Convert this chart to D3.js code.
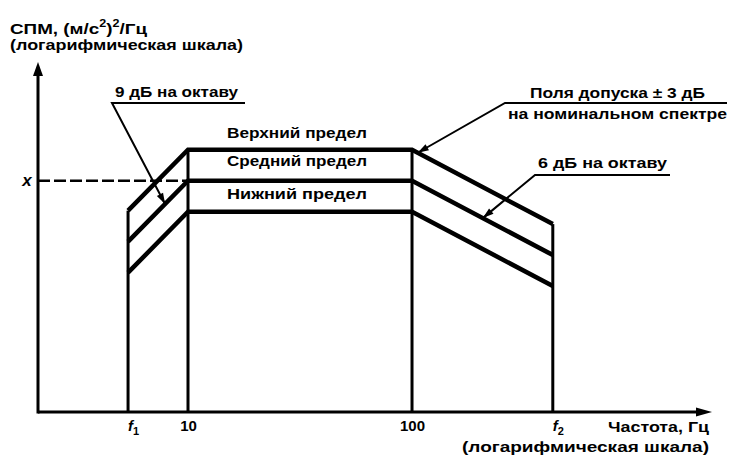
<!DOCTYPE html>
<html>
<head>
<meta charset="utf-8">
<script src="https://cdn.jsdelivr.net/npm/d3@7"></script>
<style>
  body { margin: 0; background: #fff; }
  svg { display: block; }
  text { font-family: "Liberation Sans", Arial, sans-serif; font-weight: bold; fill: #000; }
</style>
</head>
<body>
<div id="chart"></div>
<script>
const freqs = [5.4, 10, 100, 425];
const tickLabels = ['f1', '10', '100', 'f2'];
// levels relative to the nominal value X, dB
const upper = [-2.9, 3, 3, -4.2];
const middle = [-5.9, 0, 0, -7.2];
const lower = [-8.9, -3, -3, -10.2];
const bandNames = ['Верхний предел', 'Средний предел', 'Нижний предел'];
const bandLabelLevels = [4.1, 1.4, -1.8];

const width = 730, height = 462;

const svg = d3.select('#chart').append('svg')
  .attr('width', width)
  .attr('height', height);

svg.append('rect').attr('width', width).attr('height', height).attr('fill', '#fff');

const x = d3.scaleLog().domain([2.14, 2183]).range([38, 712]);
const y = d3.scaleLinear().domain([-22.4, 11.5]).range([412, 62]);

const series = [upper, middle, lower];

// value of a series at frequency f (linear in log f between points)
function levelAt(vals, f) {
  const i = d3.bisectRight(freqs, f) - 1;
  const j = Math.min(i + 1, freqs.length - 1);
  if (i === j) return vals[i];
  const t = (Math.log(f) - Math.log(freqs[i])) / (Math.log(freqs[j]) - Math.log(freqs[i]));
  return vals[i] + t * (vals[j] - vals[i]);
}

// ---- axes with arrow heads
const y0 = y.range()[0];
svg.append('line')
  .attr('x1', x.range()[0]).attr('x2', x.range()[1] - 10)
  .attr('y1', y0).attr('y2', y0)
  .attr('stroke', '#000').attr('stroke-width', 3);
svg.append('line')
  .attr('x1', x.range()[0]).attr('x2', x.range()[0])
  .attr('y1', y0 + 1.5).attr('y2', y.range()[1] + 10)
  .attr('stroke', '#000').attr('stroke-width', 3);

const xe = x.range()[1], ye = y.range()[1], xo = x.range()[0];
svg.append('path')
  .attr('d', `M${xe},${y0} L${xe - 16},${y0 - 4.5} L${xe - 16},${y0 + 4.5} Z`)
  .attr('fill', '#000');
svg.append('path')
  .attr('d', `M${xo},${ye} L${xo - 5},${ye + 14} L${xo + 5},${ye + 14} Z`)
  .attr('fill', '#000');

const xAxis = svg.append('g')
  .attr('transform', `translate(0,${y0})`)
  .call(d3.axisBottom(x).tickValues(freqs).tickSize(0).tickPadding(8)
    .tickFormat((d, i) => tickLabels[i]));
xAxis.select('.domain').remove();
xAxis.selectAll('text')
  .style('font-family', '"Liberation Sans", Arial, sans-serif')
  .style('font-weight', 'bold')
  .attr('font-size', 15)
  .each(function (d, i) {
    const lbl = tickLabels[i];
    if (lbl[0] === 'f') {
      const t = d3.select(this).text(null).attr('dx', 5);
      t.append('tspan').attr('font-style', 'italic').text('f');
      t.append('tspan').attr('dy', 4).attr('font-size', 11).text(lbl.slice(1));
    }
  });

// ---- vertical lines at each break frequency
svg.append('g').selectAll('line')
  .data(freqs)
  .join('line')
  .attr('x1', d => x(d)).attr('x2', d => x(d))
  .attr('y1', y0).attr('y2', (d, i) => y(upper[i]))
  .attr('stroke', '#000').attr('stroke-width', 3);

// ---- dashed reference level X
svg.append('line')
  .attr('x1', xo).attr('x2', x(10))
  .attr('y1', y(0)).attr('y2', y(0))
  .attr('stroke', '#000').attr('stroke-width', 2.5)
  .attr('stroke-dasharray', '12,4');

// ---- the three spectrum lines
const line = d3.line()
  .x((d, i) => x(freqs[i]))
  .y(d => y(d));

svg.append('g').selectAll('path')
  .data(series)
  .join('path')
  .attr('d', line)
  .attr('fill', 'none')
  .attr('stroke', '#000')
  .attr('stroke-width', 4.5)
  .attr('stroke-linejoin', 'miter');

// ---- band names
const xMid = (x(10) + x(100)) / 2 - 3;
svg.append('g').selectAll('text')
  .data(bandNames)
  .join('text')
  .attr('x', xMid)
  .attr('y', (d, i) => y(bandLabelLevels[i]))
  .attr('text-anchor', 'middle')
  .attr('font-size', 15)
  .attr('textLength', 140)
  .attr('lengthAdjust', 'spacingAndGlyphs')
  .text(d => d);

svg.append('text')
  .attr('x', 27).attr('y', y(0) + 5)
  .attr('text-anchor', 'middle')
  .attr('font-size', 17)
  .attr('font-style', 'italic')
  .text('x');

// ---- plain text labels
const labels = [
  { t: '(логарифмическая шкала)', x: 10, y: 50, w: 233 },
  { t: 'Частота, Гц', x: 608, y: 432, w: 101 },
  { t: '(логарифмическая шкала)', x: 462, y: 452, w: 247 },
  { t: '9 дБ на октаву', x: 115, y: 97, w: 123 },
  { t: 'Поля допуска ± 3 дБ', x: 530, y: 98, w: 175 },
  { t: 'на номинальном спектре', x: 508, y: 119, w: 219 },
  { t: '6 дБ на октаву', x: 538, y: 168, w: 129 },
];
svg.append('g').selectAll('text')
  .data(labels)
  .join('text')
  .attr('x', d => d.x).attr('y', d => d.y)
  .attr('font-size', 15)
  .attr('textLength', d => d.w)
  .attr('lengthAdjust', 'spacingAndGlyphs')
  .text(d => d.t);

// y axis title with superscripts
const yt = svg.append('text')
  .attr('x', 10).attr('y', 34)
  .attr('font-size', 15)
  .attr('textLength', 137)
  .attr('lengthAdjust', 'spacingAndGlyphs');
yt.append('tspan').text('СПМ, (м/с');
yt.append('tspan').attr('dy', -7).attr('font-size', 10).text('2');
yt.append('tspan').attr('dy', 7).text(')');
yt.append('tspan').attr('dy', -7).attr('font-size', 10).text('2');
yt.append('tspan').attr('dy', 7).text('/Гц');

// ---- leaders: underline + line to an arrow on a spectrum line
const leaders = [
  { x0: 245, x1: 112, yl: 103, f: 7.9, s: middle },
  { x0: 727, x1: 505, yl: 103, f: 106, s: upper },
  { x0: 670, x1: 535, yl: 175, f: 207, s: middle },
];

const lg = svg.append('g');
leaders.forEach(d => {
  const tx = x(d.f), ty = y(levelAt(d.s, d.f));
  lg.append('path')
    .attr('d', `M${d.x0},${d.yl} L${d.x1},${d.yl} L${tx},${ty}`)
    .attr('fill', 'none')
    .attr('stroke', '#000')
    .attr('stroke-width', 2);
  const ang = Math.atan2(ty - d.yl, tx - d.x1);
  const len = 11, hw = 3.5;
  const bx = tx - len * Math.cos(ang), by = ty - len * Math.sin(ang);
  const px = -Math.sin(ang) * hw, py = Math.cos(ang) * hw;
  lg.append('path')
    .attr('d', `M${tx},${ty} L${bx + px},${by + py} L${bx - px},${by - py} Z`)
    .attr('fill', '#000');
});
</script>
</body>
</html>
